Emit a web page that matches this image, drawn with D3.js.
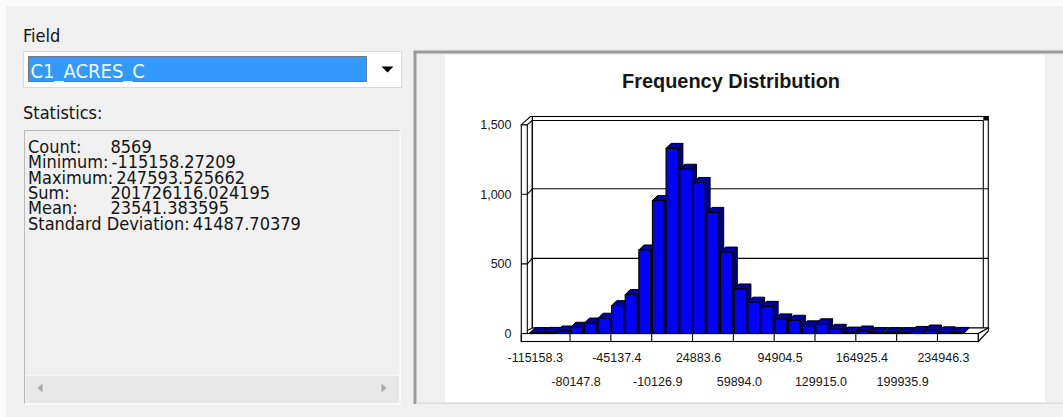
<!DOCTYPE html>
<html>
<head>
<meta charset="utf-8">
<script src="https://cdn.jsdelivr.net/npm/d3@7"></script>
<style>
  html, body { margin: 0; padding: 0; background: #f0f0f0; overflow: hidden; }
  svg { display: block; }
  .ui { font-family: "DejaVu Sans Condensed", "DejaVu Sans", sans-serif; font-stretch: condensed; fill: #141414; }
  .ch { font-family: "Liberation Sans", Arial, sans-serif; fill: #161616; }
</style>
</head>
<body>
<svg id="view" width="1063" height="417"></svg>
<script>
// ---- data -------------------------------------------------------------
const fieldName = "C1_ACRES_C";
const statLabels = ["Count:", "Minimum:", "Maximum:", "Sum:", "Mean:", "Standard Deviation:"];
const statValues = ["8569", "-115158.27209", "247593.525662", "201726116.024195", "23541.383595", "41487.70379"];

// frequency per class (32 classes)
const binCounts = [6, 8, 18, 45, 75, 110, 200, 280, 600, 955, 1330, 1180, 1085, 870, 585, 320,
                   225, 195, 105, 95, 55, 70, 30, 10, 18, 6, 5, 5, 15, 25, 12, 8];
const slotCount = 33;          // class slots along the axis
const xTickStep = 3;           // one label every three classes
const xTickLabels = ["-115158.3", "-80147.8", "-45137.4", "-10126.9", "24883.6", "59894.0",
                     "94904.5", "129915.0", "164925.4", "199935.9", "234946.3"];
const yTickValues = [0, 500, 1000, 1500];
const chartTitle = "Frequency Distribution";

// ---- page -------------------------------------------------------------
const svg = d3.select("#view");
svg.append("rect").attr("width", 1063).attr("height", 417).attr("fill", "#f0f0f0");
svg.append("rect").attr("width", 1063).attr("height", 6).attr("fill", "#fbfbfb");
svg.append("rect").attr("width", 6).attr("height", 417).attr("fill", "#fbfbfb");

// ---- left panel: field picker and statistics -------------------------
const left = svg.append("g");
left.append("text").attr("class", "ui").attr("x", 23).attr("y", 42).attr("font-size", 18).text("Field");

left.append("rect").attr("x", 23.5).attr("y", 51.5).attr("width", 378).attr("height", 36)
  .attr("fill", "#ffffff").attr("stroke", "#dadada");
left.append("rect").attr("x", 28.5).attr("y", 56.5).attr("width", 338).attr("height", 25)
  .attr("fill", "#3399ff").attr("stroke", "#3a2a10").attr("stroke-dasharray", "1,1");
left.append("text").attr("class", "ui").attr("x", 30.5).attr("y", 77.5).attr("font-size", 20)
  .style("fill", "#f4f8ff").text(fieldName);
left.append("path").attr("d", "M381.5,66.5 L393.5,66.5 L387.5,72.5 Z").attr("fill", "#000");

left.append("text").attr("class", "ui").attr("x", 23).attr("y", 118.5).attr("font-size", 18).text("Statistics:");

// statistics list box
left.append("rect").attr("x", 24.5).attr("y", 130.5).attr("width", 375.5).attr("height", 273.5)
  .attr("fill", "#f0f0f0").attr("stroke", "none");
left.append("path").attr("d", "M24.5,404 L24.5,130.5 L400,130.5").attr("fill", "none").attr("stroke", "#b8b8b8");
left.append("path").attr("d", "M400,130.5 L400,404 L24.5,404").attr("fill", "none").attr("stroke", "#ffffff");
left.append("rect").attr("x", 26).attr("y", 375).attr("width", 373).attr("height", 28).attr("fill", "#e8e8e8");
left.append("line").attr("x1", 26).attr("x2", 399).attr("y1", 375.5).attr("y2", 375.5).attr("stroke", "#f8f8f8");
left.append("path").attr("d", "M37.5,388 L42.5,383.5 L42.5,392.5 Z").attr("fill", "#a8a8a8");
left.append("path").attr("d", "M386.5,388 L381.5,383.5 L381.5,392.5 Z").attr("fill", "#a8a8a8");

const statRows = left.append("g").selectAll("g").data(statLabels).join("g");
statRows.each(function (label, i) {
  const row = d3.select(this);
  const baseY = 152.8 + i * 15.4;
  const lab = row.append("text").attr("class", "ui").attr("x", 28).attr("y", baseY)
    .attr("font-size", 18).text(label);
  const labEnd = 28 + lab.node().getComputedTextLength();
  // values line up on a tab stop unless the label runs past it
  row.append("text").attr("class", "ui").attr("x", Math.max(110.5, labEnd + 3)).attr("y", baseY)
    .attr("font-size", 18).text(statValues[i]);
});

// ---- right panel frame ----------------------------------------------
svg.append("rect").attr("x", 416).attr("y", 53).attr("width", 660).attr("height", 350).attr("fill", "#f0f0f0");
svg.append("rect").attr("x", 445).attr("y", 55).attr("width", 600).attr("height", 347).attr("fill", "#ffffff");
svg.append("path").attr("d", "M415,404 L415,52 L1063,52").attr("fill", "none")
  .attr("stroke", "#9b9b9b").attr("stroke-width", 3);
svg.append("line").attr("x1", 416).attr("x2", 1063).attr("y1", 403.2).attr("y2", 403.2)
  .attr("stroke", "#dedede").attr("stroke-width", 1.5);

// ---- chart ------------------------------------------------------------
const chart = svg.append("g");
const x = d3.scaleLinear().domain([0, slotCount]).range([529.2, 978.3]);
const y = d3.scaleLinear().domain([0, 1500]).range([333.5, 124.7]);
const wallDx = 11, wallDy = -5.5;   // depth of walls and floor
const barDx = 5, barDy = -5;        // depth of the bars
const frontX = 521.3, wallInX = 527.3, backX = x(0) + 3.1, backRight = x(slotCount) + 5;
const floorFront = y(0), floorBottom = y(0) + 8;

chart.append("text").attr("class", "ch").attr("x", 731).attr("y", 88.3)
  .attr("text-anchor", "middle").attr("font-size", 19.5).attr("font-weight", "bold")
  .attr("textLength", 218).attr("lengthAdjust", "spacingAndGlyphs").text(chartTitle);

const ink = { fill: "#ffffff", stroke: "#000000", "stroke-width": 1.1 };
function styled(sel) { Object.entries(ink).forEach(([k, v]) => sel.attr(k, v)); return sel; }

// back wall
const backTop = y(1500) + wallDy + 1.3;
styled(chart.append("rect").attr("x", backX).attr("y", backTop - 4).attr("width", backRight + 5 - backX)
  .attr("height", y(0) + wallDy - backTop + 4));
chart.append("line").attr("x1", backX).attr("x2", backRight).attr("y1", backTop).attr("y2", backTop)
  .attr("stroke", "#000").attr("stroke-width", 1.1);
chart.append("line").attr("x1", backRight).attr("x2", backRight).attr("y1", backTop).attr("y2", y(0) + wallDy)
  .attr("stroke", "#000").attr("stroke-width", 1.1);
chart.append("rect").attr("x", backRight).attr("y", backTop - 4).attr("width", 5).attr("height", 4).attr("fill", "#000");

// gridlines on the back wall
chart.append("g").selectAll("line").data(yTickValues.filter(v => v > 0 && v < 1500)).join("line")
  .attr("x1", backX).attr("x2", backRight + 5)
  .attr("y1", d => y(d) + wallDy).attr("y2", d => y(d) + wallDy)
  .attr("stroke", "#000").attr("stroke-width", 1.1);

// floor: top face, front strip, end face
styled(chart.append("path").attr("d",
  `M${frontX},${floorFront} L${frontX + wallDx},${floorFront + wallDy} L${x(slotCount) + wallDx},${floorFront + wallDy} L${x(slotCount)},${floorFront} Z`));
styled(chart.append("rect").attr("x", frontX).attr("y", floorFront).attr("width", x(slotCount) - frontX)
  .attr("height", floorBottom - floorFront));
styled(chart.append("path").attr("d",
  `M${x(slotCount)},${floorFront} L${x(slotCount) + 10},${floorFront + wallDy} L${x(slotCount) + 10},${floorFront + wallDy + 3} L${x(slotCount)},${floorBottom} Z`));
const xTickIdx = d3.range(xTickStep, slotCount, xTickStep);
chart.append("g").selectAll("line").data(xTickIdx).join("line")
  .attr("x1", d => x(d)).attr("x2", d => x(d)).attr("y1", floorFront).attr("y2", floorBottom)
  .attr("stroke", "#000").attr("stroke-width", 1.1);

// left wall
styled(chart.append("rect").attr("x", frontX).attr("y", y(1500)).attr("width", wallInX - frontX)
  .attr("height", floorFront - y(1500)));
chart.append("line").attr("x1", frontX).attr("x2", frontX).attr("y1", floorFront).attr("y2", floorBottom)
  .attr("stroke", "#000").attr("stroke-width", 1.1);
styled(chart.append("path").attr("d",
  `M${frontX},${y(1500)} L${backX - 1.8},${backTop - 4} L${backX},${backTop - 4} L${backX},${backTop} L${wallInX},${y(1500)} Z`));
chart.append("line").attr("x1", backX).attr("x2", backX).attr("y1", backTop).attr("y2", y(0) + wallDy)
  .attr("stroke", "#000").attr("stroke-width", 1.1);
chart.append("g").selectAll("path").data(yTickValues.filter(v => v > 0 && v < 1500)).join("path")
  .attr("d", d => `M${frontX},${y(d)} L${wallInX},${y(d)} L${backX},${y(d) + wallDy}`)
  .attr("fill", "none").attr("stroke", "#000").attr("stroke-width", 1.1);

// y labels
chart.append("g").selectAll("text").data(yTickValues).join("text")
  .attr("class", "ch").attr("x", 511.5).attr("y", d => y(d)).attr("dy", "0.36em")
  .attr("text-anchor", "end").attr("font-size", 12.5).text(d => d3.format(",")(d));

// bars, drawn left to right so each front face covers its neighbour's side
const bars = chart.append("g").selectAll("g").data(binCounts).join("g");
bars.each(function (v, i) {
  const g = d3.select(this);
  const x0 = x(i) + 0.8, x1 = x0 + 11.8, yt = y(v), yb = y(0);
  g.append("path").attr("d", `M${x1},${yt} L${x1 + barDx},${yt + barDy} L${x1 + barDx},${yb + barDy} L${x1},${yb} Z`)
    .attr("fill", "#00007a").attr("stroke", "#000").attr("stroke-width", 1);
  g.append("path").attr("d", `M${x0},${yt} L${x0 + barDx},${yt + barDy} L${x1 + barDx},${yt + barDy} L${x1},${yt} Z`)
    .attr("fill", "#0000a6").attr("stroke", "#000").attr("stroke-width", 1);
  g.append("rect").attr("x", x0).attr("y", yt).attr("width", x1 - x0).attr("height", yb - yt)
    .attr("fill", "#0000ff").attr("stroke", "#000").attr("stroke-width", 1.2);
});

// x labels, staggered over two rows
chart.append("g").selectAll("text").data(xTickLabels).join("text")
  .attr("class", "ch").attr("x", (d, i) => x(i * xTickStep) + 6)
  .attr("y", (d, i) => (i % 2 === 0 ? 357.4 : 381.7)).attr("dy", "0.36em")
  .attr("text-anchor", "middle").attr("font-size", 12.5).text(d => d);
</script>
</body>
</html>
